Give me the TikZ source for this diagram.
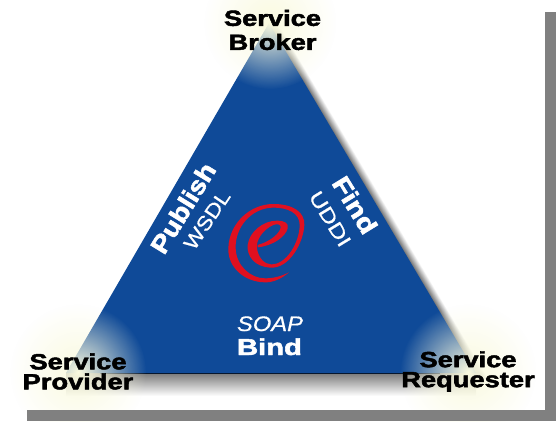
\documentclass[tikz,border=0pt]{standalone}
\usepackage{fontspec}
\setmainfont{Liberation Sans}
\newfontfamily\blk[BoldFeatures={FakeBold=2}]{Liberation Sans}
\newfontfamily\medi[FakeBold=0.6]{Liberation Sans}
\newfontfamily\soapf[ItalicFeatures={FakeBold=0.6}]{Liberation Sans}
\usetikzlibrary{fadings}
\definecolor{triblue}{HTML}{0F4A98}
\definecolor{framegray}{HTML}{808080}
\definecolor{glowcol}{HTML}{FAFADF}
\definecolor{logored}{HTML}{E01020}
\tikzfading[name=glowfade, inner color=transparent!0, outer color=transparent!100]
\tikzset{
  corner/.style={font=\blk\bfseries\fontsize{22}{#1}\selectfont, align=center, text=black, xscale=1.24, transform shape, inner sep=0pt},
  mainlab/.style={font=\blk\bfseries\fontsize{25}{26}\selectfont, text=white, transform shape, inner sep=0pt},
  sublab/.style={font=\medi\fontsize{20}{22}\selectfont, text=white, transform shape, inner sep=0pt},
  glow/.style={fill=glowcol, path fading=glowfade}
}
\begin{document}
\begin{tikzpicture}[x=1pt,y=-1pt]
\fill[white] (0,0) rectangle (557,421);
\useasboundingbox (0,0) rectangle (557,421);
% soft shadow on the right edge
\foreach \i in {20,19,...,1}{
  \pgfmathsetmacro{\lev}{55*(1-\i/20)}
  \fill[black!\lev!white] ({269+\i*0.65},{23+\i*0.35}) -- ({476+\i*0.65},{373+\i*0.35}) -- ({66+\i*0.65},{373+\i*0.35}) -- cycle;
}
% soft shadow below
\shade[top color=framegray!95!black, bottom color=white] (66,373) rectangle (476,396);
% triangle
\fill[triblue] (269,23) -- (476,373) -- (66,373) -- cycle;
\draw[black!70!triblue, line width=1.6pt] (100,373.5) -- (440,373.5);
% glows
\fill[glow] (270,23) circle (66);
\fill[glow] (78,372) circle (68);
\fill[glow] (468,372) circle (68);
% gray frame
\fill[framegray] (545,12) rectangle (556,421);
\fill[framegray] (27,410) rectangle (556,421);
% e logo
\begin{scope}[shift={(215,195)}, scale=0.3333]
\fill[logored]
  (222,232) .. controls (195,255) and (170,263) .. (148,262)
  .. controls (85,260) and (38,215) .. (40,160)
  .. controls (42,85) and (105,27) .. (175,27)
  .. controls (235,27) and (270,52) .. (268,90)
  .. controls (266,140) and (225,222) .. (165,218)
  .. controls (120,215) and (95,185) .. (98,150)
  .. controls (103,110) and (145,77) .. (185,77)
  .. controls (210,77) and (222,85) .. (218,100)
  .. controls (212,125) and (175,152) .. (128,157)
  -- (128,150)
  .. controls (165,140) and (195,115) .. (197,97)
  .. controls (198,87) and (185,86) .. (175,90)
  .. controls (145,103) and (122,135) .. (126,160)
  .. controls (130,190) and (150,208) .. (168,208)
  .. controls (215,210) and (254,140) .. (254,90)
  .. controls (254,55) and (220,37) .. (172,38)
  .. controls (110,40) and (60,95) .. (62,160)
  .. controls (63,210) and (105,250) .. (150,250)
  .. controls (178,250) and (200,243) .. cycle;
\end{scope}
% labels
\node[corner=24] (broker) at (272.5,30) {Service\\Broker};
\node[corner=20] (provider) at (78,371.5) {Service\\Provider};
\node[corner=20] (requester) at (468,371.5) {Service\\Requester};
\node[mainlab, rotate=58.5, xscale=1.12] (publish) at (183,208) {Publish};
\node[sublab, rotate=56, xscale=1.15] (wsdl) at (207,220) {WSDL};
\node[mainlab, rotate=-58.5, xscale=1.18] (find) at (355,205) {Find};
\node[sublab, rotate=-58.5, xscale=1.25] (uddi) at (330,219) {UDDI};
\node[sublab, font=\soapf\itshape\fontsize{21}{22}\selectfont, xscale=1.13, anchor=base] (soap) at (270,331) {SOAP};
\node[mainlab, font=\blk\bfseries\fontsize{23}{24}\selectfont, xscale=1.27, anchor=base] (bind) at (269.5,355) {Bind};
\end{tikzpicture}
\end{document}
